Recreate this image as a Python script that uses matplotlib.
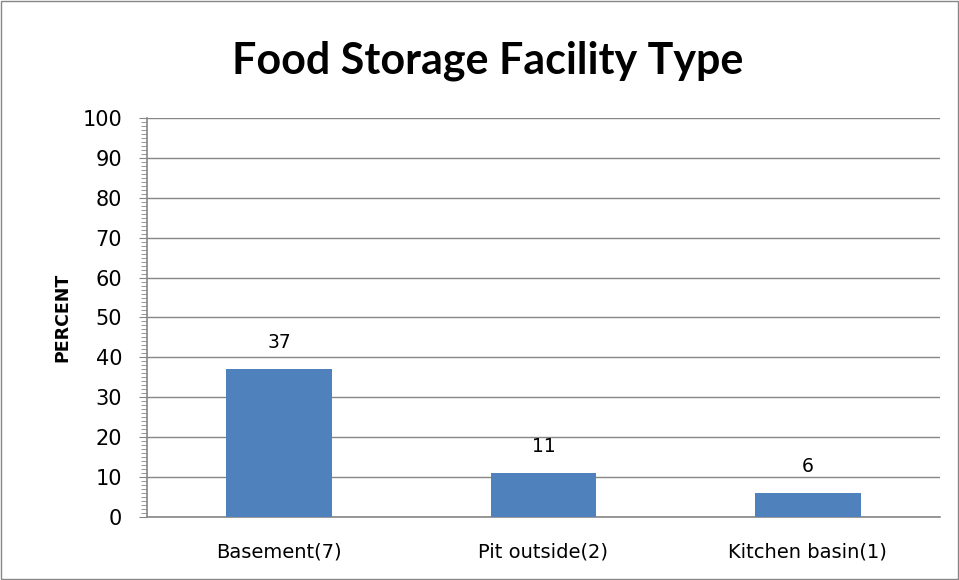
import matplotlib
matplotlib.use("Agg")
import matplotlib.pyplot as plt
from matplotlib.ticker import MultipleLocator
import numpy as np

categories = ["Basement(7)", "Pit outside(2)", "Kitchen basin(1)"]
percent = [37, 11, 6]

fig = plt.figure(figsize=(9.59, 5.8), dpi=100)
ax = fig.add_axes([0.1533, 0.1086, 0.8267, 0.688])

x = np.arange(len(categories))
bars = ax.bar(x, percent, width=0.4, color="#4f81bd", zorder=3)
for b, v in zip(bars, percent):
    ax.text(b.get_x() + b.get_width() / 2, v + 4.3, str(v), ha="center", va="bottom",
            fontsize=13.5, family="DejaVu Sans", color="#000000")

ax.set_xlim(-0.5, 2.5)
ax.set_ylim(0, 100)
ax.yaxis.set_major_locator(MultipleLocator(10))
ax.yaxis.set_minor_locator(MultipleLocator(1))
ax.set_xticks(x)
ax.set_xticklabels(categories, fontsize=14)
ax.tick_params(axis="x", length=0, pad=18)
ax.tick_params(axis="y", which="major", length=6, color="#868686", labelsize=15, pad=12)
ax.tick_params(axis="y", which="minor", length=4, color="#868686")
ax.grid(axis="y", color="#868686", lw=1, zorder=0)
for s in ["top", "right"]:
    ax.spines[s].set_visible(False)
ax.spines["left"].set_color("#868686")
ax.spines["bottom"].set_color("#868686")
ax.spines["left"].set_linewidth(1.2)
ax.spines["bottom"].set_linewidth(1.2)

ax.set_ylabel("PERCENT", fontsize=12.5, fontweight="bold", labelpad=8)
fig.text(0.509, 0.895, "Food Storage Facility Type", ha="center", va="center",
         fontsize=31, fontweight="bold", family="Lato")

border = plt.Rectangle((0.001, 0.001), 0.998, 0.998, transform=fig.transFigure,
                       fill=False, edgecolor="#868686", lw=1)
fig.patches.append(border)

fig.savefig("out.png", dpi=100)
